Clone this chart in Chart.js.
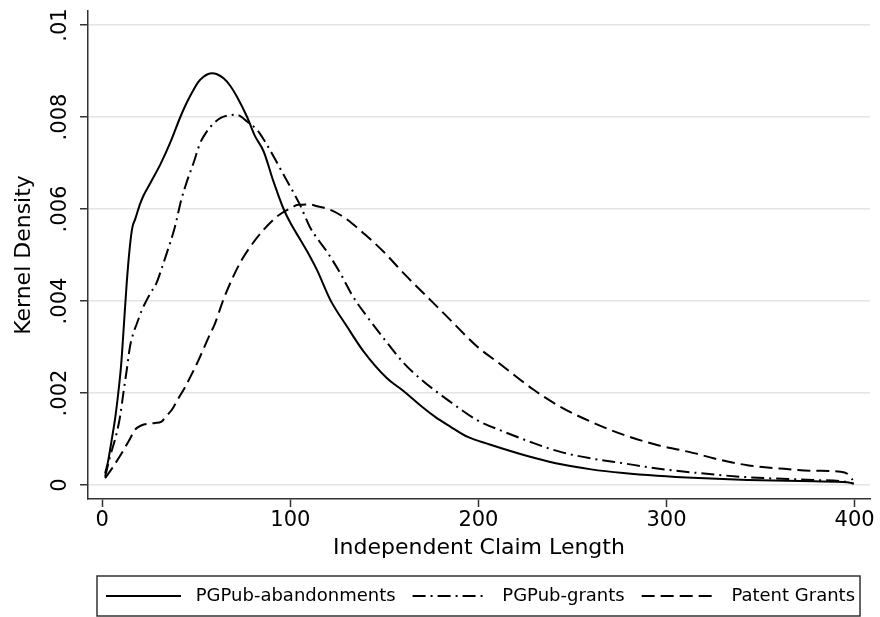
<!DOCTYPE html>
<html>
<head>
<meta charset="utf-8">
<script src="https://cdn.jsdelivr.net/npm/chart.js@4/dist/chart.umd.min.js"></script>
<style>
  html, body { margin: 0; padding: 0; background: #fff; }
  #wrap { width: 880px; height: 617px; }
</style>
</head>
<body>
<div id="wrap"><canvas id="kd" width="880" height="617"></canvas></div>
<script>
// ---- data ----
const seriesNames = ["PGPub-abandonments", "PGPub-grants", "Patent Grants"];

// PGPub-abandonments (solid)
const abandonX = [1.5, 3, 5, 7, 8.5, 10, 11.2, 13, 14.7, 16, 17.5, 20, 22, 25.5, 31, 36, 41.5, 45, 48.6, 51, 54, 56, 58.3, 61, 64.5, 68, 71.6, 77, 81, 85.8, 91, 96.4, 100, 105.3, 110, 114.2, 121.3, 130.2, 139, 151.4, 160, 170, 177, 185, 194, 206, 217, 229, 244, 260, 277, 295, 317, 343, 378, 396, 399.5];
const abandonY = [0.00025, 0.0005, 0.00098, 0.0015, 0.002, 0.0026, 0.0033, 0.0044, 0.0052, 0.0056, 0.00578, 0.0061, 0.0063, 0.00656, 0.00698, 0.00743, 0.0080, 0.00832, 0.0086, 0.00876, 0.00888, 0.00893, 0.00895, 0.00893, 0.00884, 0.00868, 0.00844, 0.0080, 0.0076, 0.00725, 0.0066, 0.0060, 0.0057, 0.00533, 0.0050, 0.00467, 0.00402, 0.00344, 0.0029, 0.00232, 0.00205, 0.0017, 0.00148, 0.00127, 0.00105, 0.00088, 0.00074, 0.0006, 0.00045, 0.00034, 0.00026, 0.0002, 0.00015, 0.00011, 0.00008, 0.00006, 0.00003];

// PGPub-grants (dash-dot)
const grantX = [1.5, 4, 7.6, 9.5, 11.2, 13, 14.7, 16.5, 18.3, 21, 23.6, 26, 28.9, 31.5, 34.2, 38.6, 42, 45, 48.5, 52, 55.5, 59.2, 63, 68, 71, 73.4, 77, 82.3, 86, 91.1, 95, 100, 105, 110.5, 115, 119.5, 126.6, 132.8, 140.8, 149.6, 160.3, 170, 185, 199.3, 213.5, 229.4, 243.6, 259.6, 277.3, 295, 317, 343, 378, 396, 399.6];
const grantY = [0.00018, 0.0006, 0.00112, 0.0015, 0.002, 0.0025, 0.003, 0.0033, 0.0035, 0.0038, 0.00402, 0.0042, 0.0044, 0.0047, 0.00503, 0.00561, 0.0062, 0.0066, 0.0070, 0.00743, 0.00768, 0.00786, 0.00798, 0.00804, 0.00805, 0.00802, 0.0079, 0.00772, 0.0075, 0.00714, 0.00685, 0.00648, 0.0061, 0.0056, 0.00532, 0.00507, 0.0046, 0.00413, 0.00366, 0.00319, 0.00265, 0.00228, 0.00181, 0.00141, 0.00116, 0.00091, 0.00072, 0.00058, 0.00047, 0.00036, 0.00026, 0.00017, 0.00011, 0.00007, 0.00003];

// Patent Grants (dashed)
const patentX = [1.5, 5, 10.3, 14, 17.4, 21, 24.5, 28, 31.5, 34, 36.9, 40, 43.9, 51, 56.4, 59.9, 64.3, 69.6, 74.1, 79.4, 85.6, 92.7, 99.8, 104.2, 110, 114.2, 120, 126.6, 133, 139, 149.6, 160.3, 174.5, 185, 199.3, 209.9, 229.4, 243.6, 259.6, 277.3, 295, 307.4, 317, 325, 343, 360, 378, 392.6, 397, 399];
const patentY = [0.00015, 0.00035, 0.00069, 0.00095, 0.0012, 0.0013, 0.00133, 0.00135, 0.00138, 0.0015, 0.00163, 0.00185, 0.00212, 0.0027, 0.0032, 0.00351, 0.00402, 0.00453, 0.00489, 0.00522, 0.00554, 0.00583, 0.00601, 0.00609, 0.0061, 0.00606, 0.006, 0.00587, 0.00568, 0.00547, 0.00507, 0.0046, 0.00402, 0.00359, 0.00301, 0.00268, 0.00207, 0.0017, 0.00138, 0.00109, 0.00087, 0.00076, 0.00067, 0.00058, 0.00043, 0.00036, 0.00031, 0.00029, 0.00022, 0.00011];

const xTicks = [0, 100, 200, 300, 400];
const yTicks = [0, 0.002, 0.004, 0.006, 0.008, 0.01];

function pts(xs, ys) {
  return xs.map((x, i) => ({x: x, y: ys[i]}));
}

// y labels Stata style: 0, .002, ... .01
function stataNum(v) {
  if (v === 0) return "0";
  return String(+v.toFixed(4)).replace(/^0\./, ".");
}

Chart.defaults.font.family = "'DejaVu Sans', sans-serif";
Chart.defaults.color = "#000";

// legend sits in a framed box like Stata's
const legendFrame = {
  id: "legendFrame",
  afterLayout(chart) {
    const lg = chart.legend;
    lg.left = 106 - lg.options.labels.padding;
    lg.right = 880;
    lg.width = lg.right - lg.left;
  },
  afterDraw(chart) {
    const lg = chart.legend;
    const hb = lg.legendHitBoxes;
    if (!hb || !hb.length) return;
    const last = hb[hb.length - 1];
    const cy = hb[0].top + hb[0].height / 2;
    const ctx = chart.ctx;
    ctx.save();
    ctx.strokeStyle = "#333";
    ctx.lineWidth = 1.5;
    ctx.setLineDash([]);
    ctx.strokeRect(hb[0].left - 9, cy - 20, last.left + last.width + 5 - (hb[0].left - 9), 40);
    ctx.restore();
  }
};

const lineCommon = {
  borderColor: "#000",
  backgroundColor: "#000",
  borderWidth: 2,
  pointRadius: 0,
  fill: false,
  cubicInterpolationMode: "monotone"
};

new Chart(document.getElementById("kd"), {
  type: "line",
  data: {
    datasets: [
      Object.assign({label: seriesNames[0], data: pts(abandonX, abandonY), borderDash: []}, lineCommon),
      Object.assign({label: seriesNames[1], data: pts(grantX, grantY), borderDash: [13, 5, 2, 5]}, lineCommon),
      Object.assign({label: seriesNames[2], data: pts(patentX, patentY), borderDash: [13, 6]}, lineCommon)
    ]
  },
  plugins: [legendFrame],
  options: {
    responsive: false,
    animation: false,
    layout: { padding: { left: 0, top: 11, right: 10, bottom: 2 } },
    plugins: {
      tooltip: { enabled: false },
      legend: {
        position: "bottom",
        align: "start",
        labels: {
          usePointStyle: true,
          pointStyle: "line",
          pointStyleWidth: 75,
          boxHeight: 18,
          padding: 17,
          font: { size: 18 },
          color: "#000",
          generateLabels(chart) {
            const items = Chart.defaults.plugins.legend.labels.generateLabels(chart);
            items.forEach(it => {
              const ds = chart.data.datasets[it.datasetIndex];
              it.text = " " + it.text;
              it.pointStyle = "line";
              it.lineDash = ds.borderDash;
              it.lineWidth = ds.borderWidth;
              it.strokeStyle = ds.borderColor;
            });
            return items;
          }
        }
      }
    },
    scales: {
      x: {
        type: "linear",
        min: -7.6,
        max: 408.2,
        afterFit(s) { s.height = 71; s.paddingLeft = 0; s.paddingRight = 0; },
        afterBuildTicks(s) { s.ticks = xTicks.map(v => ({value: v})); },
        ticks: { font: { size: 21 }, padding: 1, maxRotation: 0, autoSkip: false, callback: v => String(v) },
        grid: { drawOnChartArea: false, drawTicks: true, tickLength: 8, tickColor: "#333", tickWidth: 1.5 },
        border: { display: true, color: "#333", width: 1.5 },
        title: { display: true, text: "Independent Claim Length", font: { size: 22 }, padding: { top: 0, bottom: 9 } }
      },
      y: {
        type: "linear",
        min: -0.000304,
        max: 0.0103043,
        afterFit(s) { s.width = 88; s.paddingTop = 0; s.paddingBottom = 0; },
        afterBuildTicks(s) { s.ticks = yTicks.map(v => ({value: v})); },
        ticks: { font: { size: 21 }, padding: -4, minRotation: 90, maxRotation: 90, crossAlign: "center", autoSkip: false, callback: v => stataNum(v) },
        grid: { color: "#e4e4e4", lineWidth: 1.5, drawTicks: true, tickLength: 8, tickColor: "#333", tickWidth: 1.5 },
        border: { display: true, color: "#333", width: 1.5 },
        title: { display: true, text: "Kernel Density", font: { size: 22 }, padding: { top: 11, bottom: 0 } }
      }
    }
  }
});
</script>
</body>
</html>
